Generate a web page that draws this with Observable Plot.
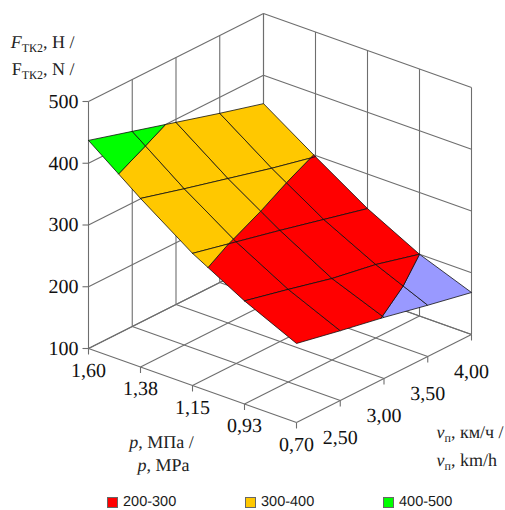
<!DOCTYPE html>
<html>
<head>
<meta charset="utf-8">
<script src="https://cdn.jsdelivr.net/npm/d3@7"></script>
<script src="https://cdn.jsdelivr.net/npm/@observablehq/plot@0.6"></script>
<style>
html,body{margin:0;padding:0;background:#fff;width:505px;height:510px;overflow:hidden}
#chart text,#chart tspan{font-family:"Liberation Serif","Times New Roman",serif !important;text-rendering:geometricPrecision}
#legend{position:relative;height:20px;font:14.5px "Liberation Sans",Arial,sans-serif;color:#1a1a1a;text-rendering:geometricPrecision}
#legend span.s{position:absolute;top:7px;width:9px;height:9px;border:1px solid #666}
#legend span.t{position:absolute;top:4px;line-height:17px}
</style>
</head>
<body>
<div id="chart"></div>
<div id="legend"></div>
<script>
// ---- data ----
const pTicks = ["1,60", "1,38", "1,15", "0,93", "0,70"];
const vTicks = ["", "2,50", "3,00", "3,50", "4,00"];
const fTicks = [100, 200, 300, 400, 500];
// force at each pressure (rows) for each of five speeds (2.00 ... 4.00)
const F160 = [437, 416, 395, 374, 354];
const F138 = [373, 353, 334, 315, 298];
const F115 = [314, 297, 280, 262, 244];
const F093 = [267, 250, 232, 219, 200];
const F070 = [228, 213, 199, 183, 168];
const surface = [F160, F138, F115, F093, F070];
const bandNames = ["100-200", "200-300", "300-400", "400-500"];
const bandLo = [100, 200, 300, 400];
const bandColors = ["#9999ff", "#ff0000", "#ffc800", "#00ff00"];
const legendBands = ["200-300", "300-400", "400-500"];

// ---- oblique projection of (p index, v index, force) onto the page ----
const W = 505, H = 490;
const ox = 88, oy = 348, px = 52, py = 18.5, vx = 43.75, vy = -22, fk = 247 / 400;
const X = (i, j) => ox + i * px + j * vx;
const Y = (i, j, f) => oy + i * py + j * vy - (f - 100) * fk;

// ---- cut every surface cell at the band limits ----
function clip(poly, keep, level) {
  const out = [];
  poly.forEach((a, k) => {
    const b = poly[(k + 1) % poly.length];
    const ka = keep(a[2]), kb = keep(b[2]);
    if (ka) out.push(a);
    if (ka !== kb) {
      const t = (level - a[2]) / (b[2] - a[2]);
      out.push([a[0] + t * (b[0] - a[0]), a[1] + t * (b[1] - a[1]), level]);
    }
  });
  return out;
}
const pieces = [];
let id = 0;
for (let i = 0; i < 4; i++) for (let j = 0; j < 4; j++) {
  const cell = [[i, j], [i + 1, j], [i + 1, j + 1], [i, j + 1]].map(([a, b]) => [a, b, surface[a][b]]);
  bandLo.forEach((lo, b) => {
    const hi = lo + 100;
    let poly = clip(cell, f => f >= lo, lo);
    if (poly.length) poly = clip(poly, f => f <= hi, hi);
    if (poly.length < 3) return;
    id++;
    [...poly, poly[0]].forEach(q => pieces.push({id, band: bandNames[b], x: X(q[0], q[1]), y: Y(q[0], q[1], q[2])}));
  });
}

// ---- frame: walls, floor and ticks ----
const seg = (a, b) => ({x1: a[0], y1: a[1], x2: b[0], y2: b[1]});
const P = (i, j, f) => [X(i, j), Y(i, j, f)];
const frame = [];
fTicks.forEach(f => {
  frame.push(seg(P(0, 0, f), P(0, 4, f)));
  frame.push(seg(P(0, 4, f), P(4, 4, f)));
});
for (let j = 0; j <= 4; j++) {
  frame.push(seg(P(0, j, 100), P(0, j, 500)));
  frame.push(seg(P(0, j, 100), P(4, j, 100)));
}
for (let i = 0; i <= 4; i++) {
  frame.push(seg(P(i, 4, 100), P(i, 4, 500)));
  frame.push(seg(P(i, 0, 100), P(i, 4, 100)));
}
const tickLen = 6;
const ticks = [];
for (let i = 0; i <= 4; i++) { const a = P(i, 0, 100); ticks.push(seg(a, [a[0], a[1] + tickLen])); }
for (let j = 1; j <= 4; j++) { const a = P(4, j, 100); ticks.push(seg(a, [a[0], a[1] + tickLen])); }
fTicks.forEach(f => { const a = P(0, 0, f); ticks.push(seg(a, [a[0] - tickLen, a[1]])); });

const fLabels = fTicks.map(f => ({text: String(f), x: X(0, 0) - 10, y: Y(0, 0, f)}));
const pLabels = pTicks.map((t, i) => ({text: t, x: X(i, 0), y: Y(i, 0, 100) + 22}));
const vLabels = vTicks.map((t, j) => ({text: t, x: X(4, j), y: Y(4, j, 100) + 37.5})).filter(d => d.text);

const titleRows = [
  {text: "*F*_ТК2_, Н /", left: 74, top: 47, anchor: "end"},
  {text: "F_ТК2_, N /", left: 74, top: 74, anchor: "end"},
  {text: "*p*, МПа /", left: 161, top: 447, anchor: "middle"},
  {text: "*p*, MPa", left: 163, top: 470, anchor: "middle"},
  {text: "*v*_п_, км/ч /", left: 436, top: 437, anchor: "start"},
  {text: "*v*_п_, km/h", left: 436, top: 465, anchor: "start"}
];

const chart = Plot.plot({
  width: W, height: H,
  margin: 0,
  style: {background: "#fff", overflow: "visible"},
  x: {domain: [0, W], range: [0, W], axis: null},
  y: {domain: [0, H], range: [0, H], axis: null},
  color: {domain: bandNames, range: bandColors},
  marks: [
    Plot.link(frame, {x1: "x1", y1: "y1", x2: "x2", y2: "y2", stroke: "#6e6e6e", strokeWidth: 1.1}),
    Plot.link(ticks, {x1: "x1", y1: "y1", x2: "x2", y2: "y2", stroke: "#6e6e6e", strokeWidth: 1.1}),
    Plot.line(pieces, {x: "x", y: "y", z: "id", fill: "band", stroke: "#111", strokeWidth: 0.8, curve: "linear"}),
    Plot.text(fLabels, {x: "x", y: "y", text: "text", textAnchor: "end", fontSize: 20, fill: "#111"}),
    Plot.text(pLabels, {x: "x", y: "y", text: "text", fontSize: 20, fill: "#111"}),
    Plot.text(vLabels, {x: "x", y: "y", text: "text", fontSize: 20, fill: "#111"}),
    ...["start", "middle", "end"].map(a =>
      Plot.text(titleRows.filter(d => d.anchor === a), {x: "left", y: "top", text: "text", textAnchor: a, lineAnchor: "bottom", fontSize: 18, fill: "#222"}))
  ]
});
document.getElementById("chart").appendChild(chart);

// italics and subscripts inside the axis titles
d3.select(chart).selectAll("text").each(function () {
  const s = this.textContent;
  if (!/[*_]/.test(s)) return;
  const sel = d3.select(this);
  sel.text(null);
  let sub = false;
  s.split(/(\*[^*]+\*|_[^_]+_)/).filter(Boolean).forEach(part => {
    const t = sel.append("tspan");
    if (part[0] === "*") t.text(part.slice(1, -1)).attr("font-style", "italic");
    else if (part[0] === "_") { t.text(part.slice(1, -1)).attr("font-size", 12).attr("dy", 4); sub = true; }
    else { t.text(part); if (sub) { t.attr("dy", -4); sub = false; } }
  });
});

// legend below the chart
const lg = document.getElementById("legend");
const swatchLeft = [107, 245, 383];
legendBands.forEach((name, k) => {
  const s = document.createElement("span");
  s.className = "s";
  s.style.left = swatchLeft[k] + "px";
  s.style.background = bandColors[bandNames.indexOf(name)];
  const t = document.createElement("span");
  t.className = "t";
  t.style.left = (swatchLeft[k] + 16) + "px";
  t.textContent = name;
  lg.append(s, t);
});
</script>
</body>
</html>
